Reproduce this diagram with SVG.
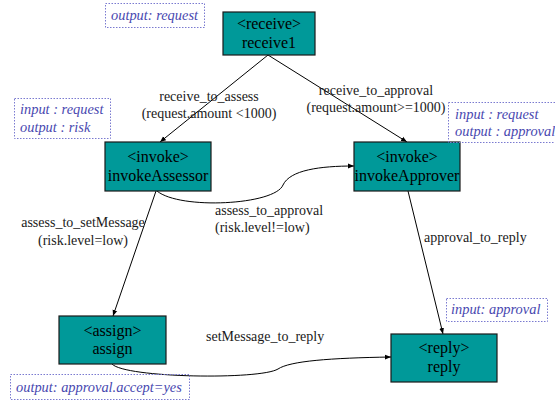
<svg xmlns="http://www.w3.org/2000/svg" width="555" height="402" viewBox="0 0 555 402">
<style>
.node rect{fill:#009999;stroke:#1a1a1a;stroke-width:1.2}
.nt{font-family:'Liberation Serif','Times New Roman',Times,'Noto Serif','DejaVu Serif',serif;font-size:16px;fill:#000;text-anchor:middle}
.el{font-family:'Liberation Serif','Times New Roman',Times,'Noto Serif','DejaVu Serif',serif;font-size:14px;fill:#1a1a1a}
.ann rect{fill:none;stroke:#7a7ad0;stroke-width:1;stroke-dasharray:1.5 1.5}
.at{font-family:'Liberation Serif','Times New Roman',Times,'Noto Serif','DejaVu Serif',serif;font-size:14.4px;font-style:italic;fill:#4848b0}
.edge{fill:none;stroke:#000;stroke-width:1}
</style>
<defs>
<marker id="arr" viewBox="0 0 10 10" refX="10" refY="5" markerWidth="6" markerHeight="6" orient="auto" markerUnits="userSpaceOnUse">
<path d="M0,1 L10,5 L0,9 z" fill="#000"/>
</marker>
</defs>
<rect width="555" height="402" fill="#fff"/>
<g id="connectors">
<path class="edge" d="M268,55 L160,142" marker-end="url(#arr)"/>
<path class="edge" d="M268,55 L407,142" marker-end="url(#arr)"/>
<path class="edge" d="M157,191 C180,210 275,205 283,185 C290,170 320,166 354,166" marker-end="url(#arr)"/>
<path class="edge" d="M156,191 L113,316" marker-end="url(#arr)"/>
<path class="edge" d="M408,191 L443,334" marker-end="url(#arr)"/>
<path class="edge" d="M112,364 C125,378 260,380 278,369 C290,361 330,358 391,357" marker-end="url(#arr)"/>
<text class="el" x="209" y="101" text-anchor="middle">receive_to_assess</text>
<text class="el" x="209" y="118" text-anchor="middle">(request.amount &lt;1000)</text>
<text class="el" x="376" y="95" text-anchor="middle">receive_to_approval</text>
<text class="el" x="376" y="112" text-anchor="middle">(request.amount&gt;=1000)</text>
<text class="el" x="83" y="227" text-anchor="middle">assess_to_setMessage</text>
<text class="el" x="83" y="245" text-anchor="middle">(risk.level=low)</text>
<text class="el" x="215" y="215">assess_to_approval</text>
<text class="el" x="215" y="232">(risk.level!=low)</text>
<text class="el" x="424" y="242">approval_to_reply</text>
<text class="el" x="206" y="341">setMessage_to_reply</text>
</g>
<g id="receive1" class="node">
<rect x="223" y="12" width="92" height="43"/>
<text class="nt" x="269" y="29">&lt;receive&gt;</text>
<text class="nt" x="269" y="48">receive1</text>
</g>
<g id="invokeAssessor" class="node">
<rect x="105" y="142" width="106" height="49"/>
<text class="nt" x="158" y="162">&lt;invoke&gt;</text>
<text class="nt" x="158" y="181">invokeAssessor</text>
</g>
<g id="invokeApprover" class="node">
<rect x="354" y="142" width="106" height="49"/>
<text class="nt" x="407" y="162">&lt;invoke&gt;</text>
<text class="nt" x="407" y="181">invokeApprover</text>
</g>
<g id="assign" class="node">
<rect x="59" y="316" width="107" height="48"/>
<text class="nt" x="112.5" y="336">&lt;assign&gt;</text>
<text class="nt" x="112.5" y="354">assign</text>
</g>
<g id="reply" class="node">
<rect x="391" y="334" width="106" height="48"/>
<text class="nt" x="444" y="353">&lt;reply&gt;</text>
<text class="nt" x="444" y="372">reply</text>
</g>
<g id="ann-receive1" class="ann">
<rect x="105.5" y="3.5" width="99" height="24"/>
<text class="at" x="111" y="20">output: request</text>
</g>
<g id="ann-assessor" class="ann">
<rect x="14.5" y="98.5" width="96" height="40"/>
<text class="at" x="20" y="114">input : request</text>
<text class="at" x="20" y="132">output : risk</text>
</g>
<g id="ann-approver" class="ann">
<rect x="448.5" y="102.5" width="112" height="40"/>
<text class="at" x="455" y="119">input : request</text>
<text class="at" x="455" y="136">output : approval</text>
</g>
<g id="ann-reply" class="ann">
<rect x="446.5" y="298.5" width="101" height="23"/>
<text class="at" x="451" y="314">input: approval</text>
</g>
<g id="ann-assign" class="ann">
<rect x="10.5" y="374.5" width="179" height="25"/>
<text class="at" x="16" y="392">output: approval.accept=yes</text>
</g>
</svg>
